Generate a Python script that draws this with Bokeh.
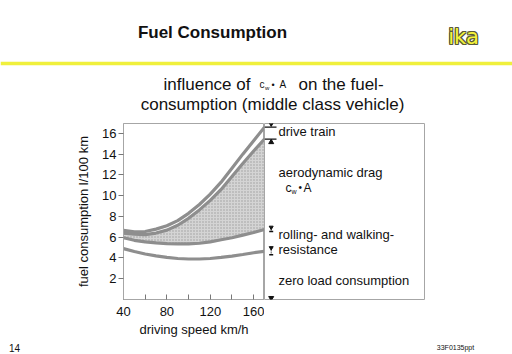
from bokeh.plotting import figure
from bokeh.layouts import column, row
from bokeh.models import Range1d, FixedTicker, Span, ColumnDataSource
from bokeh.core.properties import value
from bokeh.embed import file_html
from bokeh.resources import INLINE

# ---------------- data ----------------
speed = [40, 50, 60, 70, 80, 90, 100, 110, 120, 130, 140, 150, 160, 170]
drive_train_top = [6.65, 6.52, 6.55, 6.78, 7.1, 7.6, 8.3, 9.15, 10.15, 11.3, 12.65, 14.0, 15.3, 16.6]
aero_top = [6.4, 6.3, 6.25, 6.4, 6.68, 7.15, 7.82, 8.63, 9.55, 10.6, 11.85, 13.1, 14.3, 15.45]
rolling_top = [5.95, 5.7, 5.55, 5.45, 5.38, 5.35, 5.35, 5.42, 5.55, 5.75, 5.95, 6.2, 6.45, 6.75]
zero_load = [4.9, 4.62, 4.38, 4.2, 4.05, 3.95, 3.9, 3.9, 3.95, 4.05, 4.18, 4.33, 4.5, 4.65]

x_ticks = [40, 60, 80, 100, 120, 140, 160]
x_tick_labels = ["40", "", "80", "", "120", "", "160"]
y_ticks = [2, 4, 6, 8, 10, 12, 14, 16]
y_tick_labels = ["2", "4", "6", "8", "10", "12", "14", "16"]

FONT = value("Liberation Sans")
TXT = "#111111"
GRAY_LINE = "#8e8e8e"
FRAME = "#a6a6a6"

# ---------------- header ----------------
hdr = figure(width=512, height=115, x_range=Range1d(0, 512), y_range=Range1d(115, 0),
             output_backend="svg", toolbar_location=None, min_border=0,
             x_axis_location=None, y_axis_location=None)
hdr.grid.visible = False
hdr.outline_line_color = None
hdr.add_layout(Span(location=63, dimension="width", line_color="#f0f03c", line_width=3.5))
hdr.text(x=[212], y=[32], text=["Fuel Consumption"], text_font=FONT, text_font_size="17px",
         text_font_style="bold", text_align="center", text_baseline="middle", text_color=TXT)
# ika logo: outline + yellow fill
offs = [(-1, 0), (1, 0), (0, -1), (0, 1), (-1, -1), (1, 1), (-1, 1), (1, -1)]
hdr.text(x=[463] * len(offs), y=[36] * len(offs), text=["ika"] * len(offs),
         x_offset=[o[0] for o in offs], y_offset=[o[1] for o in offs],
         text_font=value("DejaVu Sans"), text_font_size="21px",
         text_align="center", text_baseline="middle", text_color="#5a5a3a")
hdr.text(x=[463], y=[36], text=["ika"], text_font=value("DejaVu Sans"), text_font_size="21px",
         text_align="center", text_baseline="middle", text_color="#f4f43a")
# subtitle
hdr.text(x=[163], y=[84], text=["influence of"], text_font=FONT, text_font_size="17px",
         text_align="left", text_baseline="middle", text_color=TXT)
hdr.text(x=[259], y=[84], text=["c"], text_font=FONT, text_font_size="10px",
         text_align="left", text_baseline="middle", text_color=TXT)
hdr.text(x=[264.5], y=[87], text=["w"], text_font=FONT, text_font_size="6px",
         text_align="left", text_baseline="middle", text_color=TXT)
hdr.text(x=[271], y=[84], text=["•"], text_font=FONT, text_font_size="9px",
         text_align="left", text_baseline="middle", text_color=TXT)
hdr.text(x=[279], y=[84], text=["A"], text_font=FONT, text_font_size="10px",
         text_align="left", text_baseline="middle", text_color=TXT)
hdr.text(x=[298], y=[84], text=["on the fuel-"], text_font=FONT, text_font_size="17px",
         text_align="left", text_baseline="middle", text_color=TXT)
hdr.text(x=[272], y=[104], text=["consumption (middle class vehicle)"], text_font=FONT,
         text_font_size="17px", text_align="center", text_baseline="middle", text_color=TXT)

# ---------------- curves ----------------
y_rng = Range1d(0, 16.95)
src = ColumnDataSource(dict(speed=speed, top=drive_train_top, aero=aero_top,
                            roll=rolling_top, zero=zero_load))

p = figure(width=264, height=226, x_range=Range1d(40, 170), y_range=y_rng,
           output_backend="svg", toolbar_location=None,
           min_border_left=123, min_border_right=0, min_border_top=8, min_border_bottom=42)
p.grid.visible = False
p.outline_line_color = FRAME
p.outline_line_width = 1
p.background_fill_color = "white"

p.varea(x="speed", y1="roll", y2="aero", source=src, fill_color="#d4d4d4",
        hatch_pattern="dot", hatch_color="#8f8f8f", hatch_scale=3, hatch_alpha=0.8)
for col in ["zero", "roll", "aero", "top"]:
    p.line(x="speed", y=col, source=src, line_color=GRAY_LINE, line_width=3.2)

p.xaxis.ticker = FixedTicker(ticks=x_ticks)
p.xaxis.major_label_overrides = {t: l for t, l in zip(x_ticks, x_tick_labels)}
p.xaxis.major_tick_in = 5
p.xaxis.major_tick_out = 0
p.xaxis.minor_tick_line_color = None
p.xaxis.major_label_standoff = 7
p.xaxis.axis_label = "driving speed km/h"
p.xaxis.axis_label_standoff = 3

p.yaxis.ticker = FixedTicker(ticks=y_ticks)
p.yaxis.major_label_overrides = {t: l for t, l in zip(y_ticks, y_tick_labels)}
p.yaxis.major_tick_in = 0
p.yaxis.major_tick_out = 5
p.yaxis.minor_tick_line_color = None
p.yaxis.major_label_standoff = 2
p.yaxis.axis_label = "fuel consumption l/100 km"
p.yaxis.axis_label_standoff = 8

for ax in [p.xaxis[0], p.yaxis[0]]:
    ax.axis_line_color = FRAME
    ax.major_tick_line_color = "#777777"
    ax.major_label_text_font = "Liberation Sans"
    ax.major_label_text_font_size = "13px"
    ax.major_label_text_color = TXT
    ax.axis_label_text_font = "Liberation Sans"
    ax.axis_label_text_font_size = "13px"
    ax.axis_label_text_font_style = "normal"
    ax.axis_label_text_color = TXT

# ---------------- legend panel ----------------
def vy(py):
    return (299 - py) * 16.95 / 176.0

lg = figure(width=248, height=226, x_range=Range1d(0, 160), y_range=y_rng,
            output_backend="svg", toolbar_location=None,
            min_border_left=0, min_border_right=88, min_border_top=8, min_border_bottom=42,
            x_axis_location=None, y_axis_location=None)
lg.grid.visible = False
lg.outline_line_color = FRAME
lg.outline_line_width = 1

top_end = drive_train_top[-1]
aero_end = aero_top[-1]
roll_end = rolling_top[-1]
zero_end = zero_load[-1]
mx = 6.7
# drive train dimension bars
lg.segment(x0=[0, 0], y0=[top_end, aero_end], x1=[12, 12], y1=[top_end, aero_end],
           line_color="#111111", line_width=1.1)
lg.scatter(x=[mx], y=[top_end + 0.35], marker="inverted_triangle", size=5, color="#111111")
lg.scatter(x=[mx], y=[aero_end - 0.3], marker="triangle", size=5, color="#111111")
# rolling / zero load markers
for v, h in [(roll_end, 0.2), (zero_end, 0.33)]:
    lg.segment(x0=[mx], y0=[v - h], x1=[mx], y1=[v + h], line_color="#111111",
               line_width=1, line_dash="1 1")
    lg.scatter(x=[mx], y=[v + h], marker="inverted_triangle", size=4, color="#111111")
    lg.scatter(x=[mx], y=[v - h], marker="dash", size=4, color="#111111", line_width=1.5)
lg.scatter(x=[mx], y=[0.15], marker="inverted_triangle", size=5, color="#111111")

lx = 14
lg.text(x=[lx, lx, lx, lx, lx],
        y=[vy(130.5), vy(172), vy(233.5), vy(248.5), vy(280)],
        text=["drive train", "aerodynamic drag", "rolling- and walking-", "resistance",
              "zero load consumption"],
        text_font=FONT, text_font_size="13px", text_align="left", text_baseline="middle",
        text_color=TXT)
lg.text(x=[21], y=[vy(187)], text=["c"], text_font=FONT, text_font_size="12px",
        text_align="left", text_baseline="middle", text_color=TXT)
lg.text(x=[27], y=[vy(190.5)], text=["w"], text_font=FONT, text_font_size="7px",
        text_align="left", text_baseline="middle", text_color=TXT)
lg.text(x=[34], y=[vy(187)], text=["•"], text_font=FONT, text_font_size="10px",
        text_align="left", text_baseline="middle", text_color=TXT)
lg.text(x=[39], y=[vy(187)], text=["A"], text_font=FONT, text_font_size="12px",
        text_align="left", text_baseline="middle", text_color=TXT)

# ---------------- footer ----------------
ft = figure(width=512, height=13, x_range=Range1d(0, 512), y_range=Range1d(354, 341),
            output_backend="svg", toolbar_location=None, min_border=0,
            x_axis_location=None, y_axis_location=None)
ft.grid.visible = False
ft.outline_line_color = None
ft.text(x=[14], y=[347], text=["14"], text_font=FONT, text_font_size="10px",
        text_align="center", text_baseline="middle", text_color=TXT)
ft.text(x=[455], y=[347], text=["33F0135ppt"], text_font=FONT, text_font_size="7px",
        text_align="center", text_baseline="middle", text_color=TXT)

layout = column(hdr, row(p, lg, spacing=0), ft, spacing=0)
open("out.html", "w").write(file_html(layout, INLINE))
